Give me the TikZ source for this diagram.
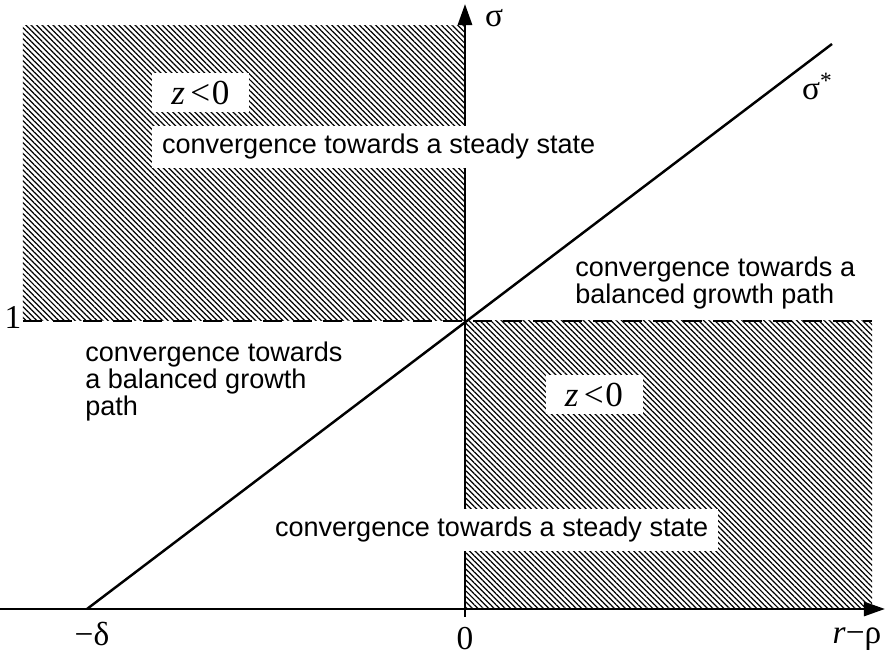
\documentclass[tikz,border=0pt]{standalone}
\usepackage{fontspec}
\setmainfont{Liberation Serif}
\setsansfont{Liberation Sans}
\usetikzlibrary{arrows.meta,patterns.meta}

\begin{document}
\begin{tikzpicture}

  \tikzset{
    axis/.style={line width=1.6pt, -{Triangle[length=12pt,width=8pt]}},
    hatched/.style={pattern={Lines[angle=-45,distance=2.2pt,line width=0.7pt]}},
    sym/.style={font=\fontsize{19}{21}\selectfont, inner sep=0pt},
    region/.style={font=\sffamily\fontsize{15.4}{15.2}\selectfont, align=left, inner sep=0pt},
    whitebox/.style={region, fill=white, inner xsep=5.5pt, minimum height=0.84cm},
    signbox/.style={sym, fill=white, minimum width=1.94cm, minimum height=0.78cm}
  }

  \useasboundingbox (-9.3,-0.82) rectangle (8.4,12.18);

  % hatched regions
  \fill[hatched] (-8.84,5.76) rectangle (0,11.66);
  \fill[hatched] (0,0) rectangle (8.14,5.76);

  \coordinate (O) at (0,0);
  \coordinate (xs) at (-9.3,0);
  \coordinate (xe) at (8.4,0);
  \coordinate (yb) at (0,-0.16);
  \coordinate (yt) at (0,12.1);
  \coordinate (hl) at (-8.84,5.76);
  \coordinate (hr) at (8.14,5.76);
  \coordinate (dl) at (-7.56,0);
  \coordinate (du) at (7.34,11.3);

  \draw[line width=1.6pt, dash pattern=on 0.38cm off 0.22cm] (hl) -- (hr);
  \draw[axis] (xs) -- (xe);
  \draw[axis] (yb) -- (yt);
  \draw[line width=1.4pt] (dl) -- (du);

  % axis labels
  \node[sym] (one) at (-9.04,5.84) {1};
  \node[sym] (mdelta) at (-7.46,-0.5) {−δ};
  \node[sym] (zero) at (0,-0.6) {0};
  \node[sym] (rrho) at (7.84,-0.6) {\textit{r}−ρ};
  \node[sym] (sigma) at (0.58,11.82) {σ};
  \node[sym] (sstar) at (7.05,10.45) {σ\textsuperscript{*}};

  % regions
  \node[signbox, font=\fontsize{20}{22}\selectfont] (zul) at (-5.29,10.33) {\textit{z}\hspace{3pt}<\hspace{1pt}0};
  \node[whitebox, anchor=west] (ssul) at (-6.26,9.24) {convergence towards a steady state};
  \node[region, anchor=north west] (bgr) at (2.2,7.04) {convergence towards a\\balanced growth path};
  \node[region, anchor=north west] (bgl) at (-7.6,5.34) {convergence towards\\a balanced growth\\path};
  \node[signbox, font=\fontsize{20}{22}\selectfont] (zlr) at (2.58,4.28) {\textit{z}\hspace{3pt}<\hspace{1pt}0};
  \node[whitebox, anchor=west] (sslr) at (-4.0,1.58) {convergence towards a steady state};

\end{tikzpicture}
\end{document}
